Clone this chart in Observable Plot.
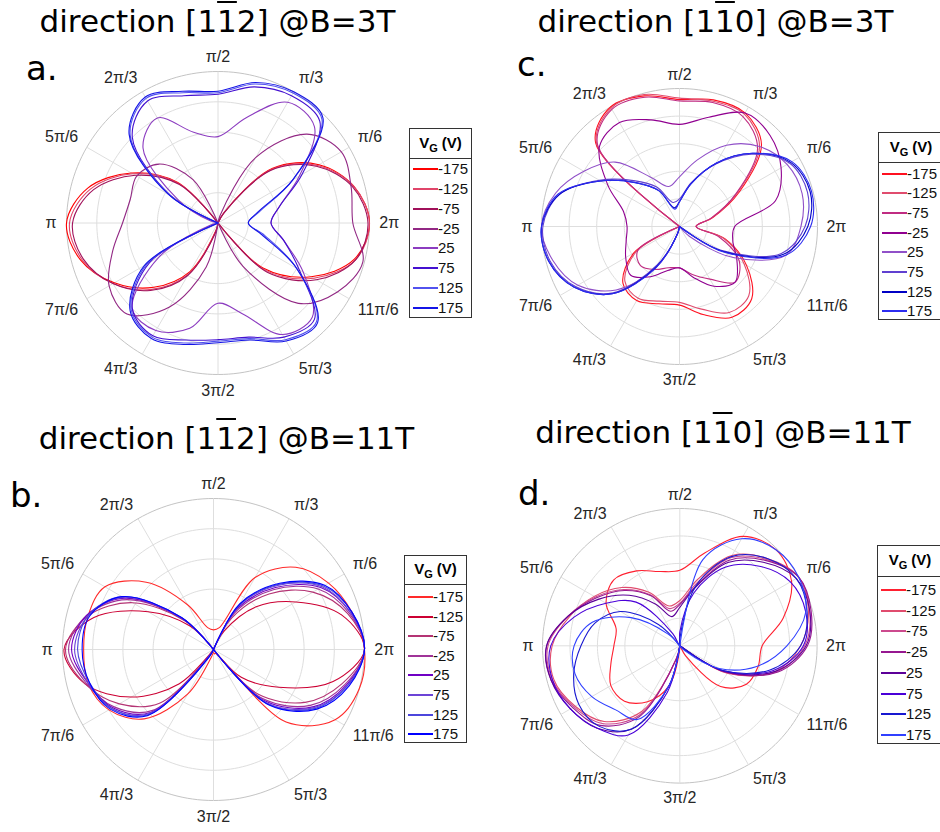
<!DOCTYPE html>
<html><head><meta charset="utf-8">
<script src="https://cdn.jsdelivr.net/npm/d3@7"></script>
<script src="https://cdn.jsdelivr.net/npm/@observablehq/plot@0.6"></script>
<style>
body{margin:0;background:#fff;}
#page{position:relative;width:940px;height:832px;overflow:hidden;background:#fff;font-family:"Liberation Sans",Arial,sans-serif;}
.title{position:absolute;width:600px;text-align:center;font-family:"DejaVu Sans",sans-serif;font-size:31px;line-height:1;white-space:nowrap;color:#000;}
.ov{text-decoration:overline;text-decoration-thickness:1.5px;}
.letter{position:absolute;font-family:"DejaVu Sans",sans-serif;font-size:34px;line-height:1;color:#000;}
.panel{position:absolute;}
.legend{position:absolute;border:1px solid #333;background:#fff;box-sizing:border-box;}
.lg-head{position:absolute;left:0;right:0;text-align:center;font-weight:bold;font-size:15px;line-height:1;color:#000;}
.lg-head sub{font-size:11px;vertical-align:-4px;line-height:0;}
.lg-sep{position:absolute;left:0;right:0;height:1px;background:#333;}
.lg-sw{position:absolute;height:2px;}
.lg-tx{position:absolute;font-size:15px;line-height:1;color:#111;}
</style></head>
<body><div id="page"></div>
<script>
// ---------- shared axis data ----------
const vg = ["-175","-125","-75","-25","25","75","125","175"];
const angles = [0,15,30,45,60,75,90,105,120,135,150,165,180,195,210,225,240,255,270,285,300,315,330,345];
const thetaTicks = [0,30,60,90,120,150,180,210,240,270,300,330];
const thetaTickLabels = ["2π","π/6","π/3","π/2","2π/3","5π/6","π","7π/6","4π/3","3π/2","5π/3","11π/6"];
const rings = [0.2,0.4,0.6,0.8,1.0];

// ---------- panel a: [1-12] @ 3T ----------
const aM175 = [1.00,0.93,0.77,0.51,0.08,0,0,0,0,0.38,0.66,0.89,1.00,0.94,0.79,0.60,0.37,0.05,0,0,0,0.42,0.71,0.93];
const aM125 = [1.00,0.93,0.76,0.50,0.08,0,0,0,0,0.37,0.65,0.87,0.98,0.93,0.80,0.62,0.39,0.06,0,0,0,0.44,0.73,0.94];
const aM75  = [0.99,0.92,0.75,0.49,0.07,0,0,0,0,0.36,0.63,0.85,0.96,0.92,0.80,0.63,0.40,0.07,0,0,0,0.46,0.75,0.94];
const aM25  = [0.89,0.91,0.94,0.83,0.50,0.05,0,0,0.33,0.55,0.62,0.60,0.63,0.72,0.83,0.85,0.64,0.30,0,0,0.33,0.75,0.91,0.99];
const aP25  = [0.35,0.42,0.62,0.90,0.92,0.72,0.57,0.62,0.80,0.70,0.30,0.05,0,0.05,0.45,0.80,0.82,0.72,0.53,0.62,0.85,0.88,0.65,0.45];
const aP75  = [0.35,0.42,0.64,0.95,0.97,0.93,0.85,0.87,0.93,0.80,0.36,0,0,0,0.52,0.80,0.86,0.80,0.77,0.78,0.87,0.90,0.62,0.45];
const aP125 = [0.20,0.28,0.57,0.97,0.99,0.95,0.86,0.89,0.95,0.82,0.37,0,0,0,0.54,0.81,0.87,0.82,0.78,0.79,0.89,0.92,0.60,0.32];
const aP175 = [0.20,0.27,0.57,0.98,1.00,0.96,0.87,0.90,0.96,0.83,0.38,0,0,0,0.56,0.82,0.88,0.83,0.79,0.80,0.90,0.93,0.60,0.30];

// ---------- panel b: [1-12] @ 11T ----------
const bM175 = [1.00,0.95,0.88,0.77,0.55,0.15,0.13,0.15,0.34,0.63,0.83,0.86,0.86,0.86,0.80,0.65,0.34,0.05,0.02,0.03,0.03,0.68,0.93,1.00];
const bM125 = [1.00,0.88,0.63,0.40,0.14,0,0,0,0,0.22,0.50,0.82,0.99,0.88,0.63,0.32,0,0,0,0,0,0.26,0.50,0.82];
const bM75  = [1.00,0.92,0.76,0.52,0.24,0,0,0,0,0.27,0.62,0.86,0.98,0.88,0.72,0.50,0.02,0,0,0,0,0.42,0.70,0.88];
const bM25  = [1.00,0.93,0.80,0.56,0.28,0,0,0,0,0.28,0.66,0.87,0.96,0.87,0.76,0.57,0.02,0,0,0,0,0.46,0.74,0.90];
const bP25  = [1.00,0.94,0.82,0.58,0.31,0,0,0,0,0.29,0.68,0.87,0.94,0.86,0.77,0.59,0.03,0,0,0,0,0.48,0.76,0.91];
const bP75  = [1.00,0.94,0.83,0.60,0.33,0,0,0,0,0.29,0.69,0.86,0.92,0.86,0.78,0.60,0.04,0,0,0,0,0.50,0.77,0.92];
const bP125 = [1.00,0.95,0.84,0.61,0.34,0,0,0,0,0.30,0.70,0.86,0.90,0.85,0.78,0.61,0.05,0,0,0,0,0.51,0.78,0.92];
const bP175 = [1.00,0.95,0.85,0.62,0.35,0,0,0,0,0.30,0.70,0.85,0.87,0.85,0.79,0.62,0.05,0,0,0,0,0.52,0.79,0.93];

// ---------- panel c: [1-10] @ 3T ----------
const cM175 = [0.12,0.25,0.50,0.84,0.95,0.95,0.92,0.98,1.00,0.86,0,0,0,0,0.38,0.58,0.62,0.58,0.57,0.66,0.76,0.74,0.56,0.34];
const cM125 = [0.12,0.24,0.48,0.82,0.94,0.94,0.93,0.99,0.99,0.85,0,0,0,0,0.36,0.56,0.60,0.56,0.55,0.62,0.72,0.71,0.54,0.33];
const cM75  = [0.12,0.24,0.47,0.80,0.92,0.93,0.91,0.97,0.98,0.84,0,0,0,0,0.35,0.40,0.36,0.31,0.30,0.36,0.44,0.57,0.50,0.30];
const cM25  = [0.40,0.72,0.85,0.93,0.95,0.82,0.74,0.80,0.87,0.82,0.60,0.42,0.38,0.40,0.45,0.50,0.42,0.33,0.30,0.38,0.50,0.57,0.48,0.40];
const cP25  = [0.88,0.92,0.90,0.82,0.68,0.50,0.36,0.30,0.41,0.66,0.80,0.93,1.00,0.95,0.85,0.65,0.35,0.05,0,0,0,0.10,0.45,0.80];
const cP75  = [0.91,0.96,0.92,0.74,0.52,0.33,0.20,0.18,0.33,0.47,0.67,0.90,0.99,0.97,0.87,0.68,0.32,0.05,0,0,0,0,0.34,0.76];
const cP125 = [0.93,0.98,0.93,0.75,0.53,0.32,0.18,0.14,0.30,0.45,0.66,0.90,1.00,0.98,0.88,0.69,0.34,0.05,0,0,0,0,0.36,0.78];
const cP175 = [0.95,0.99,0.94,0.75,0.53,0.32,0.18,0.13,0.30,0.45,0.66,0.91,1.00,0.98,0.88,0.69,0.35,0.05,0,0,0,0,0.37,0.80];

// ---------- panel d: [1-10] @ 11T ----------
const dM175 = [0.60,0.78,0.94,0.99,0.92,0.70,0.55,0.56,0.63,0.68,0.62,0.48,0.48,0.52,0.58,0.57,0.47,0.30,0.02,0,0.08,0.42,0.56,0.59];
const dM125 = [0.88,0.97,1.00,0.90,0.76,0.50,0.33,0.30,0.45,0.60,0.72,0.83,0.93,0.95,0.88,0.78,0.55,0.10,0,0,0,0,0.40,0.72];
const dM75  = [0.91,0.98,1.00,0.89,0.74,0.47,0.31,0.28,0.43,0.58,0.71,0.84,0.96,0.96,0.89,0.80,0.58,0.10,0,0,0,0,0.39,0.73];
const dM25  = [0.93,0.99,1.00,0.88,0.72,0.45,0.30,0.26,0.42,0.57,0.70,0.84,0.97,0.97,0.90,0.82,0.60,0.10,0,0,0,0,0.38,0.74];
const dP25  = [0.92,0.98,0.98,0.86,0.70,0.44,0.28,0.22,0.35,0.52,0.68,0.84,0.97,0.97,0.92,0.85,0.70,0.30,0,0,0,0,0.37,0.72];
const dP75  = [0.90,0.95,0.93,0.82,0.66,0.40,0.10,0,0.10,0.45,0.62,0.80,0.94,0.96,0.92,0.85,0.75,0.35,0,0,0,0,0.36,0.70];
const dP125 = [0.88,0.96,0.98,0.90,0.75,0.45,0.05,0,0,0.22,0.50,0.64,0.72,0.80,0.85,0.83,0.70,0.30,0,0,0,0,0.36,0.68];
const dP175 = [0.78,0.95,1.00,0.99,0.90,0.65,0,0,0,0.12,0.41,0.66,0.77,0.79,0.74,0.66,0.62,0.30,0,0,0,0.05,0.33,0.58];

// ---------- colours ----------
const colorsA = ["#ff0000","#e0456a","#a0105a","#922884","#8c3cc0","#4410d0","#5252ee","#1414e6"];
const colorsB = ["#ff2a2a","#cc0033","#b43474","#a03498","#7000c4","#6c44d6","#4c46dc","#0000ff"];
const colorsC = ["#ff1020","#e04c6e","#c02c82","#900090","#9050c8","#6040d0","#0000c4","#2c2cf0"];
const colorsD = ["#ff2030","#e04c6e","#cc4a8e","#961890","#5c0098","#4a00d8","#1818d0","#3040ff"];

// ---------- layout ----------
const panels = [
  {id:"a", cx:217.5, cy:222, R:151.5, series:[aM175,aM125,aM75,aM25,aP25,aP75,aP125,aP175], colors:colorsA,
   legend:{left:409, top:128, w:63, h:190, sep:29, first:40, step:19.85}},
  {id:"c", cx:678.7, cy:226, R:138, series:[cM175,cM125,cM75,cM25,cP25,cP75,cP125,cP175], colors:colorsC,
   legend:{left:878, top:132, w:66, h:188, sep:29, first:40.5, step:19.7}},
  {id:"b", cx:212.8, cy:648.7, R:151, series:[bM175,bM125,bM75,bM25,bP25,bP75,bP125,bP175], colors:colorsB,
   legend:{left:404, top:555, w:63, h:188, sep:28, first:41, step:19.6}},
  {id:"d", cx:679.3, cy:645, R:137.3, series:[dM175,dM125,dM75,dM25,dP25,dP75,dP125,dP175], colors:colorsD,
   legend:{left:877, top:545, w:66, h:199, sep:30, first:44, step:20.7}}
];

const page = document.getElementById("page");
const rad = d => d * Math.PI / 180;

function polarPlot(p){
  const pad = 62;
  const S = p.R + pad, k = S / p.R;
  const pts = [];
  p.series.forEach((arr, i) => arr.forEach((r, j) => {
    pts.push({vg: vg[i], x: r * Math.cos(rad(angles[j])), y: r * Math.sin(rad(angles[j]))});
  }));
  const ringPts = [];
  rings.forEach(rr => { for (let a = 0; a < 360; a += 2) ringPts.push({ring: rr, x: rr*Math.cos(rad(a)), y: rr*Math.sin(rad(a))}); });
  const spokes = thetaTicks.filter(t => t < 180).map(t => ({x1: -Math.cos(rad(t)), y1: -Math.sin(rad(t)), x2: Math.cos(rad(t)), y2: Math.sin(rad(t))}));
  const lab = 1.065;
  const labelMarks = thetaTicks.map((t, i) => {
    const c = Math.cos(rad(t)), s = Math.sin(rad(t));
    const ta = Math.abs(c) < 0.01 ? "middle" : (c > 0 ? "start" : "end");
    const la = Math.abs(s) < 0.01 ? "middle" : (s > 0 ? "bottom" : "top");
    return Plot.text([{x: lab*c, y: lab*s, t: thetaTickLabels[i]}], {x:"x", y:"y", text:"t", textAnchor: ta, lineAnchor: la, fontSize: 16, fill:"#262626"});
  });
  const svg = Plot.plot({
    width: 2*S, height: 2*S, margin: 0,
    x: {domain: [-k, k], axis: null},
    y: {domain: [-k, k], axis: null},
    color: {domain: vg, range: p.colors},
    style: {background: "transparent", fontFamily: "'Liberation Sans', Arial, sans-serif", overflow: "visible"},
    marks: [
      Plot.line(ringPts, {x:"x", y:"y", z:"ring", curve:"linear-closed", stroke: d => d.ring === 1 ? "#c4c4c4" : "#dedede", strokeWidth: 1}),
      Plot.link(spokes, {x1:"x1", y1:"y1", x2:"x2", y2:"y2", stroke:"#dedede", strokeWidth: 1}),
      ...labelMarks,
      Plot.line(pts, {x:"x", y:"y", z:"vg", stroke:"vg", curve:"catmull-rom-closed", strokeWidth: 1.1})
    ]
  });
  const wrap = document.createElement("div");
  wrap.className = "panel";
  wrap.style.left = (p.cx - S) + "px";
  wrap.style.top = (p.cy - S) + "px";
  wrap.appendChild(svg);
  page.appendChild(wrap);
}

function legend(p){
  const L = p.legend;
  const box = document.createElement("div");
  box.className = "legend";
  Object.assign(box.style, {left: L.left+"px", top: L.top+"px", width: L.w+"px", height: L.h+"px"});
  const head = document.createElement("div");
  head.className = "lg-head";
  head.style.top = (L.sep/2 - 9) + "px";
  head.innerHTML = "V<sub>G</sub> (V)";
  box.appendChild(head);
  const sep = document.createElement("div");
  sep.className = "lg-sep"; sep.style.top = L.sep + "px";
  box.appendChild(sep);
  vg.forEach((v, i) => {
    const y = Math.round(L.first + i * L.step);
    const sw = document.createElement("div");
    sw.className = "lg-sw";
    sw.style.left = "3px"; sw.style.width = "25px"; sw.style.top = (y - 1) + "px";
    sw.style.backgroundColor = p.colors[i];
    box.appendChild(sw);
    const tx = document.createElement("div");
    tx.className = "lg-tx";
    tx.style.left = "28px"; tx.style.top = (y - 8) + "px";
    tx.textContent = v;
    box.appendChild(tx);
  });
  page.appendChild(box);
}

panels.forEach(polarPlot);
panels.forEach(legend);

const titles = [
  {html:'direction [1<span class="ov">1</span>2] @B=3T', cx:217.5, base:32},
  {html:'direction [1<span class="ov">1</span>0] @B=3T', cx:715.5, base:32},
  {html:'direction [1<span class="ov">1</span>2] @B=11T', cx:226.5, base:449},
  {html:'direction [1<span class="ov">1</span>0] @B=11T', cx:723, base:443}
];
titles.forEach(t => {
  const d = document.createElement("div");
  d.className = "title";
  d.innerHTML = t.html;
  d.style.left = (t.cx - 300) + "px";
  d.style.top = (t.base - 26.2) + "px";
  page.appendChild(d);
});
const letters = [
  {t:"a.", left:26, base:80},
  {t:"c.", left:517, base:76},
  {t:"b.", left:10, base:507},
  {t:"d.", left:518, base:505}
];
letters.forEach(l => {
  const d = document.createElement("div");
  d.className = "letter";
  d.textContent = l.t;
  d.style.left = l.left + "px";
  d.style.top = (l.base - 28.8) + "px";
  page.appendChild(d);
});
</script>
</body></html>
